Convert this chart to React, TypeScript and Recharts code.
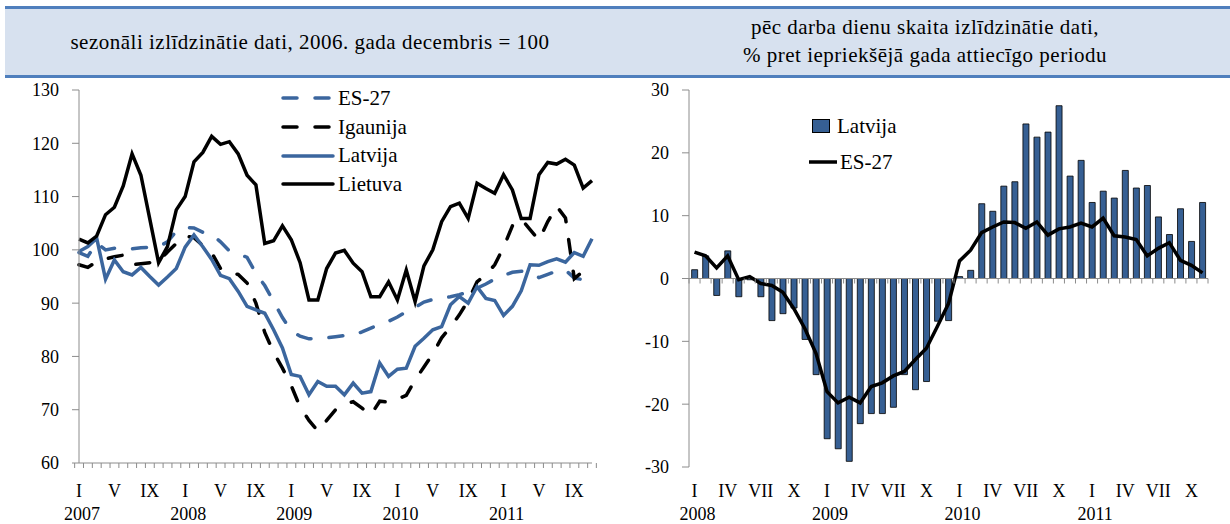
import { LineChart, Line, XAxis, YAxis, ComposedChart, Bar, ReferenceLine, Legend } from 'recharts';

const FONT = '"Liberation Serif", "Times New Roman", serif';
const BLUE = '#3B669E';
const BAR_BLUE = '#365F93';
const AXIS = '#8C8C8C';
const DASH = '14 18';

const romanMonths = ['I', 'II', 'III', 'IV', 'V', 'VI', 'VII', 'VIII', 'IX', 'X', 'XI', 'XII'];
const leftYears = ['2007', '2008', '2009', '2010', '2011'];
const rightYears = ['2008', '2009', '2010', '2011'];
const leftTicks = [60, 70, 80, 90, 100, 110, 120, 130];
const rightTicks = [-30, -20, -10, 0, 10, 20, 30];

// seasonally adjusted, Dec 2006 = 100 (Jan 2007 - Nov 2011)
const esLeft = [
  99.5, 98.8, 101.3, 100, 100.3, 100.3, 100.2, 100.4, 100.5, 100.6, 101.5, 103.5,
  104.2, 104.1, 103.3, 102.9, 101.5, 99.8, 99.2, 98.6, 95.6, 93.3, 90.3, 87.3,
  84.8, 83.8, 83.3, 83.3, 83.5, 83.7, 83.9, 84, 84.6, 85.3, 86, 86.6,
  87.4, 88.4, 89.2, 90.2, 90.7, 91, 91.2, 91.6, 92.1, 92.8, 93.6, 94.5,
  95.2, 95.8, 96, 95.6, 94.8, 95.4, 96, 96.2, 94.7, 94.4, 94.5,
];
const igaunija = [
  97.2, 96.7, 97.8, 98.3, 98.7, 99, 97.2, 97.4, 97.6, 97.8, 99.6, 101.2,
  102.6, 102.3, 100.8, 99.5, 96.5, 95.6, 95.4, 93.8, 90, 84.5, 80.8, 77.8,
  74.5, 70.5, 68, 66, 68, 70, 71, 71.5, 70.3, 69, 71.6, 71.4,
  72, 72.7, 75.6, 78, 80.5, 83.5, 85.5, 87.8, 90.5, 94, 95.3, 97.2,
  100.5, 104.5, 105.8, 103.8, 101.8, 105.3, 108.2, 106, 94.6, 96, 97.2,
];
const latvijaLeft = [
  99.7, 100.6, 102.2, 94.5, 98.1, 95.9, 95.3, 96.7, 95, 93.4, 94.9, 96.5,
  100.5, 102.8, 100.6, 98.2, 95.2, 94.6, 92.2, 89.4, 88.75, 88.1, 85, 81.6,
  76.6, 76.25, 72.8, 75.3, 74.4, 74.4, 72.8, 75, 73.1, 73.4, 78.75, 76.25,
  77.6, 77.8, 81.9, 83.4, 85, 85.6, 89.7, 91.25, 90, 93.1, 90.9, 90.5,
  87.7, 89.4, 92.3, 97.2, 97.1, 97.8, 98.3, 97.7, 99.5, 98.8, 102.1,
];
const lietuva = [
  102, 101.3, 102.6, 106.6, 108, 112, 118, 114, 105.8, 97.6, 100.6, 107.5,
  110, 116.5, 118.3, 121.3, 119.8, 120.3, 118, 114, 112.2, 101.2, 101.7, 104.5,
  101.9, 97.6, 90.6, 90.6, 96.5, 99.4, 99.9, 97.5, 95.9, 91.2, 91.2, 94,
  90.6, 96.2, 90.3, 97, 100, 105.3, 108.1, 108.75, 105.9, 112.5, 111.5, 110.6,
  114.1, 111.25, 105.9, 105.9, 114.1, 116.4, 116.1, 117, 115.9, 111.6, 113,
];

// working-day adjusted, % y/y (Jan 2008 - Nov 2011)
const latvijaBars = [
  1.4, 3.6, -2.7, 4.4, -2.9, -0.2, -2.9, -6.7, -5.6, -4.7, -9.7, -15.3,
  -25.5, -27.1, -29.1, -23.1, -21.5, -21.5, -20.5, -15.3, -17.7, -16.4, -6.8, -6.7,
  0.3, 1.3, 11.9, 10.7, 14.7, 15.4, 24.6, 22.5, 23.3, 27.5, 16.3, 18.8,
  12.1, 13.9, 12.8, 17.2, 14.4, 14.8, 9.8, 7.0, 11.1, 5.9, 12.1,
];
const esRight = [
  4.2, 3.6, 1.7, 3.6, -0.2, 0.3, -0.8, -1.1, -2.2, -4.8, -8, -11.9,
  -18, -19.8, -18.9, -19.8, -17.2, -16.6, -15.5, -14.8, -12.9, -11.1, -7.6, -4,
  2.8, 4.5, 7.3, 8.2, 9, 8.9, 8, 9, 6.9, 7.9, 8.2, 8.8,
  8.2, 9.6, 6.8, 6.6, 6.2, 3.6, 4.8, 5.7, 2.9, 2.1, 0.9,
];

const leftData = leftYears
  .flatMap(year => romanMonths.map((month, mi) => ({ year, month, mi })))
  .slice(0, lietuva.length)
  .map((c, i) => ({
    key: `${c.year}-${c.mi}`,
    ...c,
    es: esLeft[i],
    ig: igaunija[i],
    lv: latvijaLeft[i],
    lt: lietuva[i],
  }));

const rightData = rightYears
  .flatMap(year => romanMonths.map((month, mi) => ({ year, month, mi })))
  .slice(0, latvijaBars.length)
  .map((c, i) => ({
    key: `${c.year}-${c.mi}`,
    ...c,
    lv: latvijaBars[i],
    es: esRight[i],
  }));

// plot areas (chart-local coordinates)
const LEFT = { top: 90, left: 79, width: 513, height: 373 };
const RIGHT = { top: 90, left: 74, width: 519, height: 377 };
const MONTH_Y = 497;
const YEAR_Y = 520;

const textStyle = { fontFamily: FONT, fontSize: 18, fill: '#000' };

function LeftTick(props: any) {
  const { x, index } = props;
  const c = leftData[index];
  if (!c) return null;
  const band = LEFT.width / leftData.length;
  const axisY = LEFT.top + LEFT.height;
  const last = index === leftData.length - 1;
  return (
    <g>
      <line x1={x - band / 2} x2={x - band / 2} y1={axisY} y2={axisY + 5} stroke={AXIS} />
      {last && <line x1={x + band / 2} x2={x + band / 2} y1={axisY} y2={axisY + 5} stroke={AXIS} />}
      {c.mi % 4 === 0 && (
        <text x={x} y={MONTH_Y} textAnchor="middle" style={textStyle}>{c.month}</text>
      )}
      {c.mi === 0 && (
        <text x={x + 3} y={YEAR_Y} textAnchor="middle" style={textStyle}>{c.year}</text>
      )}
    </g>
  );
}

function RightTick(props: any) {
  const { x, index } = props;
  const c = rightData[index];
  if (!c) return null;
  const band = RIGHT.width / rightData.length;
  const zeroY = RIGHT.top + RIGHT.height / 2;
  const last = index === rightData.length - 1;
  return (
    <g>
      <line x1={x - band / 2} x2={x - band / 2} y1={zeroY} y2={zeroY + 5} stroke={AXIS} />
      {last && <line x1={x + band / 2} x2={x + band / 2} y1={zeroY} y2={zeroY + 5} stroke={AXIS} />}
      {c.mi % 3 === 0 && (
        <text x={x} y={MONTH_Y} textAnchor="middle" style={textStyle}>{c.month}</text>
      )}
      {c.mi === 0 && (
        <text x={x + 3} y={YEAR_Y} textAnchor="middle" style={textStyle}>{c.year}</text>
      )}
    </g>
  );
}

const legendText = { fontFamily: FONT, fontSize: 21, color: '#000', lineHeight: '21px' };

function LeftLegend() {
  const items = [
    { name: 'ES-27', color: BLUE, dash: true },
    { name: 'Igaunija', color: '#000', dash: true },
    { name: 'Latvija', color: BLUE, dash: false },
    { name: 'Lietuva', color: '#000', dash: false },
  ];
  return (
    <div>
      {items.map(it => (
        <div key={it.name} style={{ display: 'flex', alignItems: 'center', height: 28.7 }}>
          <svg width={57} height={10} style={{ display: 'block' }}>
            <line x1={2} x2={52} y1={5} y2={5} stroke={it.color} strokeWidth={3.5}
              strokeDasharray={it.dash ? DASH : undefined} strokeLinecap="round" />
          </svg>
          <span style={legendText}>{it.name}</span>
        </div>
      ))}
    </div>
  );
}

function RightLegend() {
  return (
    <div>
      <div style={{ display: 'flex', alignItems: 'center', height: 36 }}>
        <svg width={29} height={16} style={{ display: 'block' }}>
          <rect x={4.5} y={1.5} width={17} height={13} fill={BAR_BLUE} stroke="#000" />
        </svg>
        <span style={legendText}>Latvija</span>
      </div>
      <div style={{ display: 'flex', alignItems: 'center', height: 36 }}>
        <svg width={32} height={10} style={{ display: 'block' }}>
          <line x1={1} x2={29} y1={5} y2={5} stroke="#000" strokeWidth={3.5} />
        </svg>
        <span style={legendText}>ES-27</span>
      </div>
    </div>
  );
}

const headerText = {
  fontFamily: FONT, fontSize: 21, letterSpacing: 0.5, color: '#000',
  textAlign: 'center' as const, lineHeight: '28px',
};

export default function App() {
  return (
    <div style={{ position: 'absolute', left: 0, top: 0, width: 1230, height: 524, background: '#fff', overflow: 'hidden' }}>
      <div style={{
        position: 'absolute', left: 5, top: 6, width: 1225, height: 66,
        background: '#D7E1EF', borderTop: '3px solid #4F7FBD', borderBottom: '3px solid #4F7FBD',
      }} />
      <div style={{ ...headerText, position: 'absolute', left: 5, width: 610, top: 28 }}>
        sezonāli izlīdzinātie dati, 2006. gada decembris = 100
      </div>
      <div style={{ ...headerText, position: 'absolute', left: 620, width: 610, top: 13 }}>
        pēc darba dienu skaita izlīdzinātie dati,<br />% pret iepriekšējā gada attiecīgo periodu
      </div>

      <div style={{ position: 'absolute', left: 0, top: 0 }}>
        <LineChart width={615} height={524} data={leftData}
          margin={{ top: LEFT.top, right: 615 - LEFT.left - LEFT.width, bottom: 6, left: LEFT.left - 50 }}>
          <XAxis dataKey="key" interval={0} height={55} tick={<LeftTick />} tickLine={false}
            axisLine={{ stroke: AXIS }} />
          <YAxis domain={[60, 130]} ticks={leftTicks} width={50} tickSize={7} tickMargin={13}
            axisLine={{ stroke: AXIS }} tickLine={{ stroke: AXIS }} tick={textStyle} />
          <Line dataKey="es" stroke={BLUE} strokeWidth={3.5} strokeDasharray={DASH} strokeLinecap="round"
            dot={false} isAnimationActive={false} />
          <Line dataKey="ig" stroke="#000" strokeWidth={3.5} strokeDasharray={DASH} strokeLinecap="round"
            dot={false} isAnimationActive={false} />
          <Line dataKey="lv" stroke={BLUE} strokeWidth={3.5} dot={false} isAnimationActive={false} />
          <Line dataKey="lt" stroke="#000" strokeWidth={3.5} dot={false} isAnimationActive={false} />
          <Legend layout="vertical" align="center" verticalAlign="middle" content={() => <LeftLegend />}
            wrapperStyle={{ position: 'absolute', top: 84, left: 281, width: 160 }} />
        </LineChart>
      </div>

      <div style={{ position: 'absolute', left: 615, top: 0 }}>
        <ComposedChart width={615} height={524} data={rightData} barCategoryGap="24%"
          margin={{ top: RIGHT.top, right: 615 - RIGHT.left - RIGHT.width, bottom: 7, left: RIGHT.left - 50 }}>
          <XAxis dataKey="key" interval={0} height={50} tick={<RightTick />} tickLine={false} axisLine={false} />
          <YAxis domain={[-30, 30]} ticks={rightTicks} width={50} tickSize={7} tickMargin={13}
            axisLine={{ stroke: AXIS }} tickLine={{ stroke: AXIS }} tick={textStyle} />
          <ReferenceLine y={0} stroke={AXIS} />
          <Bar dataKey="lv" fill={BAR_BLUE} stroke="#000" strokeWidth={0.8} isAnimationActive={false} />
          <Line dataKey="es" stroke="#000" strokeWidth={3.5} dot={false} isAnimationActive={false} />
          <Legend layout="vertical" align="center" verticalAlign="middle" content={() => <RightLegend />}
            wrapperStyle={{ position: 'absolute', top: 108, left: 193, width: 140 }} />
        </ComposedChart>
      </div>
    </div>
  );
}
